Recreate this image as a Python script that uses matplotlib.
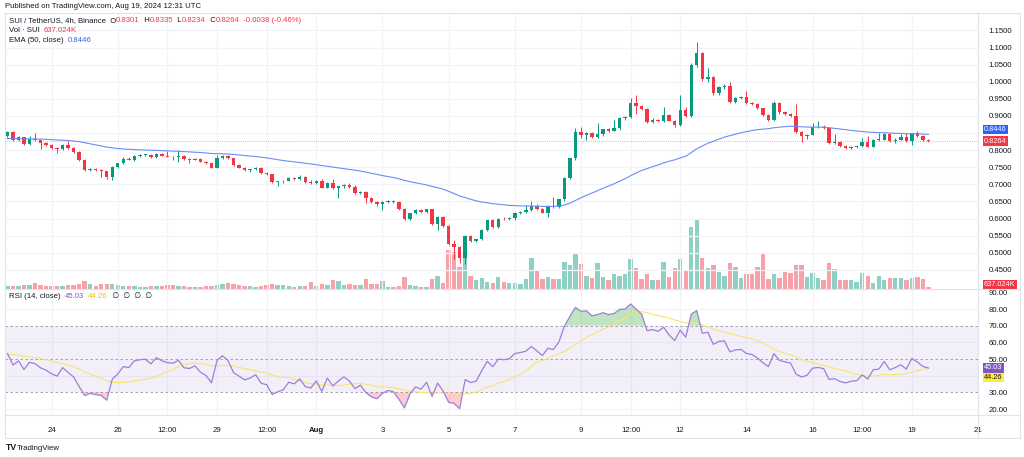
import numpy as np
import pandas as pd
import matplotlib
matplotlib.use("Agg")
import matplotlib.pyplot as plt
from matplotlib.transforms import offset_copy

plt.rcParams['font.family'] = ['Liberation Sans', 'DejaVu Sans']

# ---------------- data ----------------
start_time = "2024-07-22 16:00"
opens = [0.841,0.852,0.829,0.837,0.818,0.832,0.829,0.820,0.815,0.807,0.802,0.815,0.805,0.795,0.771,0.742,0.745,0.741,0.738,0.722,
         0.752,0.761,0.774,0.772,0.784,0.786,0.787,0.779,0.789,0.784,0.781,0.780,0.784,0.773,0.772,0.775,0.766,0.761,0.749,0.776,
         0.783,0.776,0.756,0.749,0.742,0.744,0.748,0.732,0.729,0.706,0.709,0.711,0.719,0.716,0.721,0.707,0.704,0.711,0.690,0.705,
         0.688,0.694,0.699,0.691,0.674,0.678,0.660,0.648,0.642,0.648,0.651,0.648,0.628,0.598,0.615,0.624,0.618,0.627,0.584,0.605,
         0.578,0.525,0.518,0.484,0.549,0.535,0.539,0.566,0.595,0.576,0.600,0.598,0.601,0.617,0.620,0.624,0.638,0.628,0.617,0.637,
         0.634,0.656,0.718,0.776,0.854,0.844,0.849,0.837,0.847,0.861,0.857,0.864,0.893,0.896,0.939,0.929,0.919,0.883,0.889,0.885,
         0.903,0.886,0.874,0.917,0.900,1.049,1.085,1.007,1.015,0.966,0.984,0.988,0.942,0.952,0.955,0.939,0.935,0.922,0.903,0.888,
         0.937,0.910,0.905,0.900,0.854,0.840,0.845,0.867,0.869,0.865,0.822,0.824,0.812,0.806,0.810,0.811,0.823,0.810,0.830,0.831,
         0.848,0.826,0.831,0.837,0.826,0.849,0.841,0.8301]
highs = [0.855,0.856,0.840,0.839,0.842,0.849,0.831,0.823,0.818,0.809,0.817,0.826,0.808,0.797,0.773,0.748,0.749,0.744,0.740,0.754,
         0.762,0.780,0.779,0.786,0.788,0.790,0.789,0.791,0.791,0.798,0.784,0.800,0.786,0.776,0.777,0.777,0.768,0.763,0.786,0.786,
         0.787,0.778,0.758,0.751,0.746,0.751,0.750,0.735,0.731,0.711,0.713,0.721,0.722,0.726,0.723,0.712,0.713,0.715,0.707,0.716,
         0.696,0.701,0.703,0.698,0.681,0.680,0.662,0.650,0.651,0.654,0.653,0.650,0.631,0.617,0.627,0.627,0.629,0.629,0.608,0.607,
         0.580,0.537,0.520,0.552,0.553,0.541,0.568,0.597,0.598,0.602,0.604,0.603,0.619,0.622,0.640,0.652,0.642,0.631,0.640,0.664,
         0.658,0.722,0.778,0.864,0.868,0.854,0.852,0.878,0.863,0.864,0.888,0.897,0.899,0.951,0.961,0.933,0.922,0.894,0.892,0.927,
         0.906,0.889,0.961,0.927,1.055,1.117,1.088,1.039,1.017,0.986,0.992,0.998,0.955,0.958,0.973,0.942,0.937,0.924,0.905,0.945,
         0.940,0.913,0.908,0.935,0.857,0.848,0.878,0.886,0.872,0.867,0.846,0.826,0.814,0.813,0.813,0.835,0.840,0.832,0.850,0.851,
         0.850,0.834,0.847,0.849,0.851,0.855,0.845,0.8335]
lows = [0.838,0.826,0.827,0.816,0.816,0.826,0.803,0.812,0.804,0.793,0.800,0.803,0.792,0.769,0.740,0.739,0.739,0.722,0.716,0.713,
        0.749,0.758,0.770,0.768,0.781,0.784,0.777,0.777,0.782,0.779,0.771,0.766,0.771,0.761,0.770,0.764,0.759,0.747,0.747,0.774,
        0.774,0.754,0.747,0.740,0.735,0.742,0.730,0.727,0.704,0.696,0.705,0.709,0.714,0.714,0.705,0.700,0.702,0.688,0.688,0.686,
        0.659,0.690,0.689,0.672,0.671,0.644,0.646,0.638,0.625,0.646,0.645,0.626,0.596,0.596,0.612,0.616,0.616,0.582,0.566,0.576,
        0.522,0.483,0.470,0.466,0.532,0.531,0.536,0.563,0.573,0.573,0.596,0.596,0.596,0.614,0.617,0.622,0.626,0.615,0.604,0.632,
        0.631,0.652,0.715,0.772,0.834,0.830,0.835,0.835,0.842,0.853,0.855,0.858,0.889,0.893,0.907,0.916,0.880,0.880,0.882,0.883,
        0.884,0.868,0.871,0.898,0.898,1.042,1.003,1.000,0.962,0.962,0.980,0.939,0.937,0.949,0.936,0.932,0.919,0.900,0.886,0.886,
        0.907,0.902,0.897,0.851,0.825,0.833,0.843,0.864,0.862,0.818,0.819,0.810,0.803,0.804,0.807,0.809,0.808,0.808,0.828,0.829,
        0.824,0.822,0.829,0.823,0.815,0.838,0.826,0.8234]
closes = [0.852,0.829,0.837,0.818,0.832,0.829,0.820,0.815,0.807,0.802,0.815,0.805,0.795,0.771,0.742,0.745,0.741,0.738,0.722,0.752,
          0.761,0.774,0.772,0.784,0.786,0.787,0.779,0.789,0.784,0.781,0.780,0.784,0.773,0.772,0.775,0.766,0.761,0.749,0.776,0.783,
          0.776,0.756,0.749,0.742,0.744,0.748,0.732,0.729,0.706,0.709,0.711,0.719,0.716,0.721,0.707,0.704,0.711,0.690,0.705,0.688,
          0.694,0.699,0.691,0.674,0.678,0.660,0.648,0.642,0.648,0.651,0.648,0.628,0.598,0.615,0.624,0.618,0.627,0.584,0.605,0.578,
          0.525,0.518,0.484,0.549,0.535,0.539,0.566,0.595,0.576,0.600,0.598,0.601,0.617,0.620,0.624,0.638,0.628,0.617,0.637,0.634,
          0.656,0.718,0.776,0.854,0.844,0.849,0.837,0.847,0.861,0.857,0.864,0.893,0.896,0.939,0.929,0.919,0.883,0.889,0.885,0.903,
          0.886,0.874,0.917,0.900,1.049,1.085,1.007,1.015,0.966,0.984,0.988,0.942,0.952,0.955,0.939,0.935,0.922,0.903,0.888,0.937,
          0.910,0.905,0.900,0.854,0.840,0.845,0.867,0.869,0.865,0.822,0.824,0.812,0.806,0.810,0.811,0.823,0.810,0.830,0.831,0.848,
          0.826,0.831,0.837,0.826,0.849,0.841,0.8302,0.8264]
volumes_m = [0.73,0.91,0.73,1.09,1.09,1.64,1.09,0.91,0.91,0.91,0.91,1.18,1.09,1.37,2.28,1.46,0.91,1.46,1.46,1.46,
             1.09,0.91,0.91,0.91,0.64,0.46,0.73,0.73,0.91,1.18,1.00,0.91,0.73,0.55,0.46,0.55,0.73,0.91,1.18,1.27,
             1.55,1.27,1.18,0.73,0.73,0.55,0.73,1.00,1.37,1.18,1.18,0.73,0.64,0.73,0.73,2.00,0.73,1.27,1.09,2.46,
             2.28,1.09,1.27,1.09,1.09,2.64,1.27,1.27,2.28,0.46,0.46,0.91,3.19,1.09,0.73,0.64,0.46,2.64,3.64,1.55,
             10.74,10.01,5.92,8.65,3.64,2.46,3.09,2.00,1.64,3.37,1.82,1.64,1.64,1.27,2.64,8.37,5.00,2.73,3.19,2.64,
             2.64,7.46,6.55,9.83,6.83,3.46,3.00,7.00,3.37,2.46,4.00,3.55,4.10,8.10,5.82,2.64,4.10,2.46,2.46,7.46,
             3.37,5.82,8.10,5.19,17.02,18.84,8.37,5.82,6.55,4.73,3.55,7.00,6.10,2.91,4.00,4.00,6.10,9.46,2.73,4.00,
             3.09,4.55,4.46,6.55,6.55,3.37,4.28,3.09,2.46,7.00,5.37,2.46,2.46,2.46,2.00,4.46,3.55,1.55,3.55,2.46,
             2.91,2.91,2.91,2.46,3.09,3.37,2.73,0.637024]

EMA_LEN = 50
EMA_START = 0.833
RSI_LEN = 14
RSI_PREV_CLOSE = 0.841
RSI_START_GAIN = 0.0060
RSI_START_LOSS = 0.0060
RSI_MA_START = 53.0

# tick labels of the time axis
tick_times = ["2024-07-24", "2024-07-26", "2024-07-27 12:00", "2024-07-29", "2024-07-30 12:00",
              "2024-08-01", "2024-08-03", "2024-08-05", "2024-08-07", "2024-08-09", "2024-08-10 12:00",
              "2024-08-12", "2024-08-14", "2024-08-16", "2024-08-17 12:00", "2024-08-19", "2024-08-21"]
tick_labels = ["24", "26", "12:00", "29", "12:00", "Aug", "3", "5", "7", "9", "12:00",
               "12", "14", "16", "12:00", "19", "21"]
price_grid = [0.45, 0.50, 0.55, 0.60, 0.65, 0.70, 0.75, 0.80, 0.85, 0.90, 0.95, 1.00, 1.05, 1.10, 1.15]
price_labels = [0.45, 0.50, 0.55, 0.60, 0.65, 0.70, 0.75, 0.80, 0.90, 0.95, 1.00, 1.05, 1.10, 1.15]
rsi_ticks = [20, 30, 50, 60, 70, 80, 90]

# values shown in the legend
legend_ohlc = ("0.8301", "0.8335", "0.8234", "0.8264", "-0.0038 (-0.46%)")
legend_vol = "637.024K"
legend_ema = "0.8446"
legend_rsi = "45.03"
legend_rsi_ma = "44.26"

# ---------------- derived ----------------
O = np.array(opens); Hh = np.array(highs); L = np.array(lows); C = np.array(closes)
V = np.array(volumes_m)
times = pd.date_range(start_time, periods=len(C), freq="4h")
step = pd.Timedelta("4h")
x = np.asarray((times - times[0]) / step, dtype=float)
tick_x = [(pd.Timestamp(t) - times[0]) / step for t in tick_times]

ema = []
e = EMA_START
k = 2.0 / (EMA_LEN + 1)
for c in C:
    e = c * k + e * (1 - k)
    ema.append(e)
ema = np.array(ema)

rsi = []
ag, al, prev = RSI_START_GAIN, RSI_START_LOSS, RSI_PREV_CLOSE
for c in C:
    d = c - prev
    ag = (ag * (RSI_LEN - 1) + max(d, 0)) / RSI_LEN
    al = (al * (RSI_LEN - 1) + max(-d, 0)) / RSI_LEN
    rsi.append(100 - 100 / (1 + ag / al))
    prev = c
rsi = np.array(rsi)
ext = np.concatenate([np.full(RSI_LEN - 1, RSI_MA_START), rsi])
rsi_ma = np.array([ext[i:i + RSI_LEN].mean() for i in range(len(rsi))])

# ---------------- figure ----------------
W, Hpx = 1024, 457
fig = plt.figure(figsize=(W / 100, Hpx / 100), dpi=100)
fig.patch.set_facecolor("white")

def box(x0, y0, x1, y1):
    return [x0 / W, 1 - y1 / Hpx, (x1 - x0) / W, (y1 - y0) / Hpx]

PX0, PX1 = 5, 978
MAIN_T, MAIN_B, RSI_B = 13, 289, 415
GREEN, RED = "#089981", "#F23645"
GRID = "#F0F3FA"
TXT = "#131722"
FS = 5.6

ax_vol = fig.add_axes(box(PX0, MAIN_T, PX1, MAIN_B))
ax = fig.add_axes(box(PX0, MAIN_T, PX1, MAIN_B), sharex=ax_vol)
ax_r = fig.add_axes(box(PX0, MAIN_B, PX1, RSI_B), sharex=ax_vol)
ax.patch.set_alpha(0)

xlim = (-0.45, 176.0)
ax_vol.set_xlim(*xlim)

up = C >= O
cols = np.where(up, GREEN, RED)
vcols = np.where(up, "#8ED0C4", "#F7A1A8")

# volume
ax_vol.bar(x, V, width=0.8, color=vcols, linewidth=0)
ax_vol.set_ylim(0, 75.4)
ax_vol.axis("off")

# grid (main)
for t in tick_x:
    ax.axvline(t, color=GRID, lw=0.9, zorder=0)
for p in price_grid:
    ax.axhline(p, color=GRID, lw=0.9, zorder=0)

# candles
ax.vlines(x, L, Hh, colors=cols, lw=0.7, zorder=2)
body_h = np.maximum(np.abs(C - O), 0.0012)
ax.bar(x, body_h, bottom=np.minimum(O, C), width=0.62, color=cols, linewidth=0, zorder=3)

ax.plot(x, ema, color="#6A8DF5", lw=0.8, zorder=4)
ax.axhline(C[-1], color=RED, lw=0.6, ls=(0, (1, 1.5)), alpha=0.55, zorder=1)

ax.set_ylim(0.3939, 1.2009)
ax.yaxis.tick_right()
ax.set_yticks(price_labels)
ax.set_yticklabels([f"{p:.4f}" for p in price_labels], fontsize=FS, color=TXT)
ax.tick_params(axis="y", length=0, pad=7.5)
ax.tick_params(axis="x", length=0, labelbottom=False)
for s in ax.spines.values():
    s.set_visible(False)

# ---------------- RSI pane ----------------
for t in tick_x:
    ax_r.axvline(t, color=GRID, lw=0.9, zorder=0)
for r in [20, 40, 60, 80]:
    ax_r.axhline(r, color=GRID, lw=0.9, zorder=0)
ax_r.axhspan(30, 70, color="#7E57C2", alpha=0.09, lw=0, zorder=0)
for r in [70, 50, 30]:
    ax_r.axhline(r, color="#9598A1", lw=0.6, ls=(0, (3, 3)), zorder=1)
ax_r.fill_between(x, 70, rsi, where=rsi > 70, interpolate=True, color="#4CAF50", alpha=0.35, lw=0, zorder=1)
ax_r.fill_between(x, 30, rsi, where=rsi < 30, interpolate=True, color="#F23645", alpha=0.25, lw=0, zorder=1)
ax_r.plot(x, rsi_ma, color="#F9E46B", lw=0.8, zorder=2)
ax_r.plot(x, rsi, color="#9C7FD6", lw=0.9, zorder=3)
ax_r.set_ylim(16.4, 92.0)
ax_r.yaxis.tick_right()
ax_r.set_yticks(rsi_ticks)
ax_r.set_yticklabels([f"{r:.2f}" for r in rsi_ticks], fontsize=FS, color=TXT)
ax_r.tick_params(axis="y", length=0, pad=7.5)
ax_r.set_xticks(tick_x)
ax_r.set_xticklabels(tick_labels, fontsize=FS, color=TXT)
for lab in ax_r.get_xticklabels():
    if lab.get_text() == "Aug":
        lab.set_fontweight("bold")
ax_r.tick_params(axis="x", length=0, pad=9)
for s in ax_r.spines.values():
    s.set_visible(False)
ax_r.set_xlim(*xlim)

# ---------------- frame lines ----------------
LINE = "#E0E3EB"
def hline(y, x0, x1):
    fig.add_artist(plt.Line2D([x0 / W, x1 / W], [1 - y / Hpx, 1 - y / Hpx], color=LINE, lw=0.8))
def vline(xp, y0, y1):
    fig.add_artist(plt.Line2D([xp / W, xp / W], [1 - y0 / Hpx, 1 - y1 / Hpx], color=LINE, lw=0.8))
hline(MAIN_T, PX0, 1020)
hline(MAIN_B, PX0, 1020)
hline(RSI_B, PX0, 1020)
hline(438, PX0, 1020)
vline(PX0, MAIN_T, 438)
vline(1020, MAIN_T, 438)
vline(PX1, MAIN_T, 438)

# ---------------- right-side badges ----------------
def badge(axis, yval, text, fc, tc="white", dy=0.0):
    tr = offset_copy(axis.get_yaxis_transform(), fig=fig, x=0, y=dy, units="dots")
    axis.text(1.0 + 6 / (PX1 - PX0), yval, text, transform=tr, fontsize=5.3, color=tc,
              ha="left", va="center", clip_on=False,
              bbox=dict(boxstyle="square,pad=0.18", fc=fc, ec="none"), zorder=10)

badge(ax, float(legend_ema), legend_ema, "#2962FF", dy=5.5)
badge(ax, float(legend_ohlc[3]), legend_ohlc[3], RED, dy=0)
badge(ax_vol, V[-1], legend_vol, RED, dy=2)
badge(ax_r, float(legend_rsi), legend_rsi, "#7E57C2", dy=-0.5)
badge(ax_r, float(legend_rsi_ma), legend_rsi_ma, "#FFEB3B", tc=TXT, dy=-9.0)

# ---------------- legends ----------------
def chain(axis, x0, y0, parts, size=FS):
    t = fig.text(x0 / W, 1 - y0 / Hpx, parts[0][0], color=parts[0][1], fontsize=size,
                 ha="left", va="center", zorder=20)
    prev = t
    for s, c in parts[1:]:
        prev = axis.annotate(s, xy=(1, 0.5), xycoords=prev, ha="left", va="center",
                             fontsize=size, color=c, annotation_clip=False, zorder=20)
    return t

fig.text(5 / W, 1 - 7 / Hpx, "Published on TradingView.com, Aug 19, 2024 12:31 UTC",
         fontsize=FS, color=TXT, ha="left", va="center")
chain(ax, 9, 21, [("SUI / TetherUS, 4h, Binance  O", TXT), (legend_ohlc[0], RED), ("  H", TXT),
                  (legend_ohlc[1], RED), ("  L", TXT), (legend_ohlc[2], RED), ("  C", TXT),
                  (legend_ohlc[3], RED), ("  " + legend_ohlc[4], RED)])
chain(ax, 9, 31, [("Vol · SUI  ", TXT), (legend_vol, RED)])
chain(ax, 9, 41, [("EMA (50, close)  ", TXT), (legend_ema, "#2962FF")])
chain(ax_r, 9, 296, [("RSI (14, close)  ", TXT), (legend_rsi, "#7E57C2"), ("  ", TXT),
                     (legend_rsi_ma, "#F2C200"), ("  ∅  ∅  ∅  ∅", TXT)])
fig.text(6 / W, 1 - 448 / Hpx, "TV", fontsize=6.2, fontweight="bold", color=TXT, ha="left", va="center")
fig.text(17 / W, 1 - 448 / Hpx, "TradingView", fontsize=FS, color=TXT, ha="left", va="center")

fig.savefig("out.png", dpi=100, facecolor="white")
